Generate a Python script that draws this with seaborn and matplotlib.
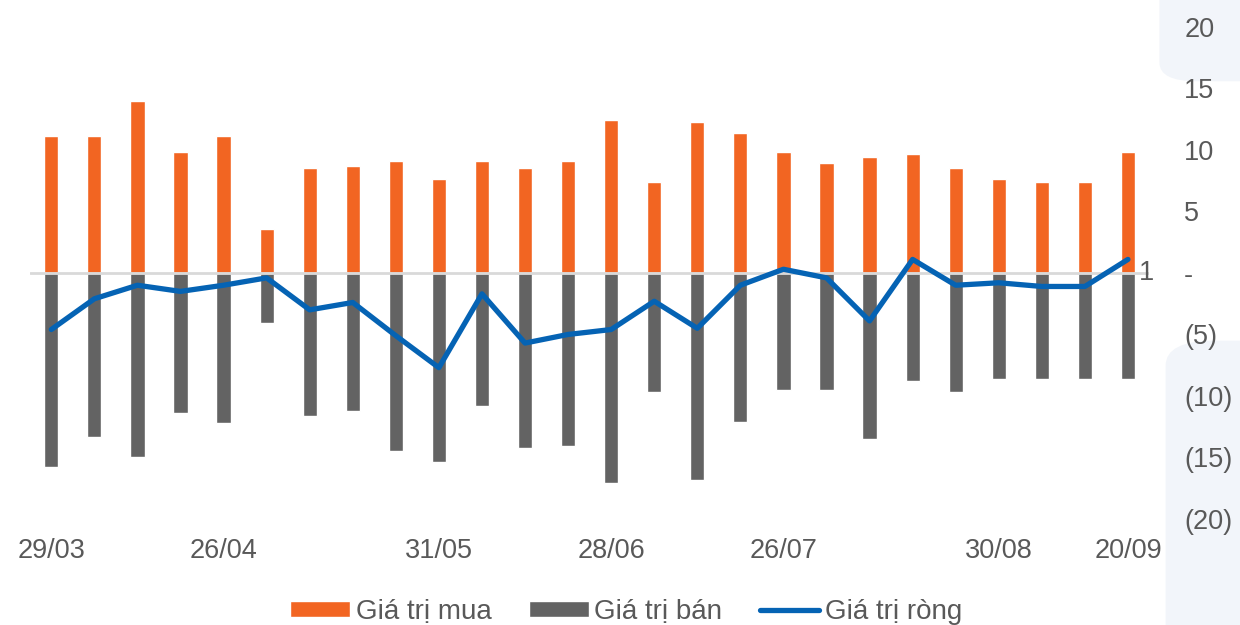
import numpy as np
import pandas as pd
import matplotlib
matplotlib.use("Agg")
import matplotlib.pyplot as plt
import seaborn as sns
from matplotlib.patches import Patch, FancyBboxPatch
from matplotlib.lines import Line2D
from matplotlib.ticker import FuncFormatter

# Data (weekly)
dates = ["29/03", "05/04", "12/04", "19/04", "26/04", "03/05", "10/05", "17/05",
         "24/05", "31/05", "07/06", "14/06", "21/06", "28/06", "05/07", "12/07",
         "19/07", "26/07", "02/08", "09/08", "16/08", "23/08", "30/08", "06/09",
         "13/09", "20/09"]
shown_labels = ["29/03", "26/04", "31/05", "28/06", "26/07", "30/08", "20/09"]

buy = [11.1, 11.1, 14.0, 9.8, 11.1, 3.6, 8.5, 8.7, 9.1, 7.6, 9.1, 8.5, 9.1,
       12.4, 7.4, 12.3, 11.4, 9.8, 8.9, 9.4, 9.7, 8.5, 7.6, 7.4, 7.4, 9.8]
sell = [-15.8, -13.3, -15.0, -11.4, -12.2, -4.1, -11.6, -11.2, -14.5, -15.4,
        -10.8, -14.2, -14.1, -17.1, -9.7, -16.8, -12.1, -9.5, -9.5, -13.5,
        -8.8, -9.7, -8.6, -8.6, -8.6, -8.6]
net = [-4.6, -2.1, -1.0, -1.5, -1.0, -0.4, -3.0, -2.4, -5.1, -7.7, -1.7, -5.7,
       -5.0, -4.6, -2.3, -4.5, -1.0, 0.3, -0.4, -3.9, 1.1, -1.0, -0.8, -1.1,
       -1.1, 1.1]

ORANGE = "#f26522"
GRAY = "#636363"
BLUE = "#0563b4"
TXT = "#595959"

sns.set_theme(style="white")
plt.rcParams["font.family"] = ["Liberation Sans", "DejaVu Sans"]

df = pd.DataFrame({"date": dates, "buy": buy, "sell": sell, "net": net})

fig = plt.figure(figsize=(12.4, 6.25), dpi=100)

# faint decorative background shapes on the right
bg = "#f2f5fa"
fig.patches.append(FancyBboxPatch((0.935, 0.87), 0.2, 0.2, boxstyle="round,pad=0,rounding_size=0.03",
                                  transform=fig.transFigure, facecolor=bg, edgecolor="none", zorder=-5))
fig.patches.append(FancyBboxPatch((0.94, -0.1), 0.2, 0.555, boxstyle="round,pad=0,rounding_size=0.04",
                                  transform=fig.transFigure, facecolor=bg, edgecolor="none", zorder=-5))

ax = fig.add_axes([0.024, 0.1696, 0.903, 0.7874])
ax.patch.set_alpha(0)

sns.barplot(data=df, x="date", y="buy", color=ORANGE, width=0.33, saturation=1, ax=ax)
sns.barplot(data=df, x="date", y="sell", color=GRAY, width=0.33, saturation=1, ax=ax)
ax.axhline(0, color="#d9d9d9", lw=2, zorder=1.5)
sns.lineplot(x=np.arange(len(dates)), y=df["net"], color=BLUE, lw=3.8, ax=ax, zorder=3)

# data label for last point
ax.annotate(f"{net[-1]:.0f}", (len(dates) - 1, net[-1]), xytext=(8, -10),
            textcoords="offset points", fontsize=19.5, color=TXT, va="center")

ax.set_xlim(-0.5, len(dates) - 0.5)
ax.set_ylim(-20, 20)
ax.set_xticks(range(len(dates)))
ax.set_xticklabels([d if d in shown_labels else "" for d in dates])
ax.set_yticks(range(-20, 21, 5))
ax.yaxis.tick_right()
ax.yaxis.set_major_formatter(FuncFormatter(
    lambda v, p: "-" if v == 0 else (f"({abs(v):.0f})" if v < 0 else f"{v:.0f}")))
for lab in ax.get_yticklabels():
    lab.set_horizontalalignment("left")
ax.tick_params(axis="y", length=0, pad=25, labelsize=19.5, labelcolor=TXT)
ax.tick_params(axis="x", length=0, pad=14, labelsize=19.5, labelcolor=TXT)
ax.set_xlabel("")
ax.set_ylabel("")
sns.despine(ax=ax, left=True, bottom=True, right=True, top=True)
ax.grid(False)

handles = [Patch(facecolor=ORANGE, label="Giá trị mua"),
           Patch(facecolor=GRAY, label="Giá trị bán"),
           Line2D([0], [0], color=BLUE, lw=3.8, label="Giá trị ròng")]
fig.legend(handles=handles, loc="lower center", bbox_to_anchor=(0.505, -0.04), ncol=3,
           frameon=False, fontsize=20, handlelength=2.15, handleheight=0.5,
           handletextpad=0.2, columnspacing=1.35, labelcolor=TXT)

fig.savefig("out.png", dpi=100)
